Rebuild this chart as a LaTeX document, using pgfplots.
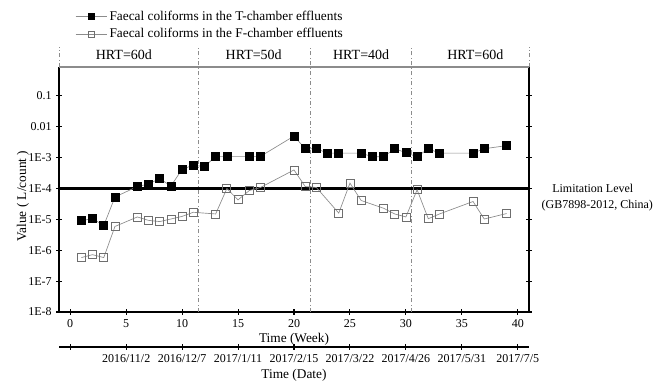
\documentclass[border=0pt]{standalone}
\usepackage{pgfplots}
\pgfplotsset{compat=1.18}
\usepackage{fontspec}
\setmainfont{Liberation Serif}
\definecolor{lg}{HTML}{8C8C8C}
\definecolor{mg}{HTML}{6E6E6E}
\begin{document}
\begin{tikzpicture}
\begin{axis}[
  at={(0,0)}, anchor=south west,
  scale only axis, width=352.5pt, height=183.75pt,
  xmin=-1, xmax=41, ymode=log, ymin=1e-8, ymax=0.864,
  clip=false,
  axis line style={draw=none},
  xtick={0,5,...,40}, xtick pos=bottom,
  ytick={1e-8,1e-7,1e-6,1e-5,1e-4,1e-3,1e-2,1e-1},
  yticklabels={1E-8,1E-7,1E-6,1E-5,1E-4,1E-3,0.01,0.1},
  ytick pos=both, yminorticks=false,
  tick align=center, major tick length=4pt,
  tick style={black, line width=0.8pt},
  /pgf/number format/assume math mode=true,
  tick label style={font=\fontsize{9}{10}\selectfont},
  xlabel={Time (Week)},
  ylabel={Value ( L/count )},
  label style={font=\fontsize{10}{12}\selectfont},
  every axis x label/.style={at={(axis description cs:0.5,0)}, anchor=center, yshift=-20.25pt},
  every axis y label/.style={at={(axis description cs:-0.0766,0.473)}, anchor=center, rotate=90},
  legend style={at={(axis description cs:0.034,1.241)}, anchor=north west, draw=none, fill=none,
    font=\fontsize{10}{12}\selectfont, row sep=0.5pt, inner sep=0pt},
  legend cell align=left,
]
\draw[black, line width=1pt] (axis description cs:0,0) -- (axis description cs:1,0);
\draw[black, line width=1pt] (axis description cs:0,0) -- (axis description cs:0,1);
\draw[black, line width=1pt] (axis description cs:1,0) -- (axis description cs:1,1);
\draw[lg, line width=0.8pt] (axis description cs:0,1) -- (axis description cs:1,1);
\draw[lg, dash dot, line width=0.6pt] (axis description cs:0,1) -- (axis description cs:0,1.0816);
\draw[lg, dash dot, line width=0.6pt] (axis description cs:1,1) -- (axis description cs:1,1.0816);
\draw[lg, dash dot, line width=0.6pt] (axis cs:11.5,1e-8) -- (axis cs:11.5,3.83);
\draw[lg, dash dot, line width=0.6pt] (axis cs:21.5,1e-8) -- (axis cs:21.5,3.83);
\draw[lg, dash dot, line width=0.6pt] (axis cs:30.5,1e-8) -- (axis cs:30.5,3.83);

\addplot[black, line width=2pt, forget plot] coordinates {(-1,1e-4) (41,1e-4)};

\addplot[color=lg, line width=0.5pt, mark=square*, mark size=3pt,
  mark options={draw=black, fill=black, solid},
  legend image code/.code={\draw[mark repeat=2,mark phase=2,mark size=2.3pt] plot coordinates {(0pt,0pt)(11.6pt,0pt)(23.2pt,0pt)};}]
coordinates {(1,9.0e-6) (2,1.07e-5) (3,6.3e-6) (4,5.3e-5) (6,1.16e-4) (7,1.4e-4) (8,2.1e-4) (9,1.2e-4) (10,4.2e-4) (11,5.7e-4) (12,5.1e-4) (13,1.1e-3) (14,1.1e-3) (16,1.1e-3) (17,1.1e-3) (20,5.0e-3) (21,1.95e-3) (22,1.95e-3) (23,1.4e-3) (24,1.4e-3) (26,1.4e-3) (27,1.07e-3) (28,1.07e-3) (29,1.95e-3) (30,1.45e-3) (31,1.07e-3) (32,1.95e-3) (33,1.4e-3) (36,1.4e-3) (37,1.95e-3) (39,2.45e-3)};
\addlegendentry{Faecal coliforms in the T-chamber effluents}

\addplot[color=lg, line width=0.5pt, mark=square, mark size=3pt,
  mark options={draw=mg, fill=white, solid, line width=0.6pt},
  legend image code/.code={\draw[mark repeat=2,mark phase=2,mark size=2.3pt] plot coordinates {(0pt,0pt)(11.6pt,0pt)(23.2pt,0pt)};}]
coordinates {(1,5.8e-7) (2,7.2e-7) (3,5.8e-7) (4,5.9e-6) (6,1.2e-5) (7,9.3e-6) (8,8.5e-6) (9,1.03e-5) (10,1.25e-5) (11,1.7e-5) (13,1.5e-5) (14,1.0e-4) (15,4.3e-5) (16,8.6e-5) (17,1.08e-4) (20,4.0e-4) (21,1.16e-4) (22,1.08e-4) (24,1.6e-5) (25,1.5e-4) (26,4.1e-5) (28,2.3e-5) (29,1.5e-5) (30,1.2e-5) (31,9.1e-5) (32,1.05e-5) (33,1.5e-5) (36,3.8e-5) (37,1.03e-5) (39,1.55e-5)};
\addlegendentry{Faecal coliforms in the F-chamber effluents}

\node[font=\fontsize{10.5}{12}\selectfont] at (axis cs:4.8,2.1) {HRT=60d};
\node[font=\fontsize{10.5}{12}\selectfont] at (axis cs:16.4,2.1) {HRT=50d};
\node[font=\fontsize{10.5}{12}\selectfont] at (axis cs:26,2.1) {HRT=40d};
\node[font=\fontsize{10.5}{12}\selectfont] at (axis cs:36.2,2.1) {HRT=60d};
\node[font=\fontsize{9}{10}\selectfont] at (axis cs:46.7,1e-4) {Limitation Level};
\node[font=\fontsize{9}{10}\selectfont] at (axis cs:47.1,2.76e-5) {(GB7898-2012, China)};
\end{axis}

\begin{axis}[
  at={(0,-26.25pt)}, anchor=south west,
  scale only axis, width=352.5pt, height=1pt,
  xmin=-1, xmax=41, ymin=0, ymax=1,
  axis y line=none, axis x line*=bottom,
  axis line style={black, line width=1pt},
  xtick={0,5,...,40},
  xticklabels={,2016/11/2,2016/12/7,2017/1/11,2017/2/15,2017/3/22,2017/4/26,2017/5/31,2017/7/5},
  tick align=center, major tick length=4pt,
  tick style={black, line width=0.8pt},
  tick label style={font=\fontsize{9}{10}\selectfont},
  xlabel={Time (Date)},
  label style={font=\fontsize{10}{12}\selectfont},
  every axis x label/.style={at={(axis description cs:0.5,0)}, anchor=center, yshift=-21pt},
]
\addplot[draw=none, forget plot] coordinates {(0,0.5)};
\end{axis}
\pgfresetboundingbox
\useasboundingbox (-44.25pt,-53.25pt) rectangle (456pt,234pt);
\end{tikzpicture}
\end{document}
